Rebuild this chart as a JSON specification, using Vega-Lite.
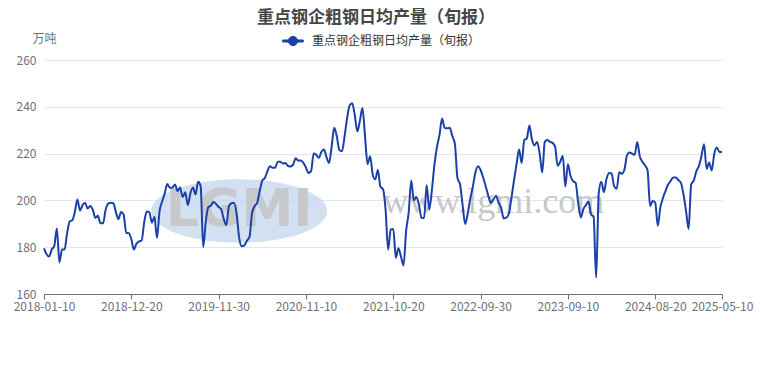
{
  "$schema": "https://vega.github.io/schema/vega-lite/v6.json",
  "autosize": "none",
  "width": 678,
  "height": 234,
  "padding": {"left": 44, "top": 60, "right": 38, "bottom": 76},
  "background": "#ffffff",
  "config": {
    "view": {"stroke": null},
    "font": "Noto Sans CJK SC"
  },
  "title": {
    "text": "重点钢企粗钢日均产量（旬报）",
    "fontSize": 17,
    "fontWeight": "bold",
    "color": "#464646",
    "font": "Noto Sans CJK SC",
    "anchor": "middle",
    "frame": "group",
    "offset": 3,
    "dx": -7
  },
  "layer": [
    {
      "data": {"values": [{}]},
      "mark": {"type": "point", "filled": true, "shape": "M-1,0 A1,0.36 0 1,1 1,0 A1,0.36 0 1,1 -1,0 Z", "size": 31000, "color": "#c3d6ec", "opacity": 0.75, "strokeWidth": 0},
      "encoding": {
        "x": {"datum": "2020-02-20", "type": "ordinal"},
        "y": {"datum": 195.5, "type": "quantitative"}
      }
    },
    {
      "data": {"values": [{}]},
      "mark": {"type": "text", "text": "LGMI", "fontSize": 52, "fontWeight": "bold", "font": "DejaVu Sans", "color": "#c6c6c6", "opacity": 0.9, "baseline": "middle", "align": "center"},
      "encoding": {
        "x": {"datum": "2020-02-20", "type": "ordinal"},
        "y": {"datum": 196, "type": "quantitative"}
      }
    },
    {
      "data": {"values": [{}]},
      "mark": {"type": "text", "text": "www.lgmi.com", "fontSize": 36, "font": "Liberation Serif", "color": "#c8c8c8", "baseline": "alphabetic", "align": "center"},
      "encoding": {
        "x": {"datum": "2022-11-20", "type": "ordinal"},
        "y": {"datum": 194.6, "type": "quantitative"}
      }
    },
    {
      "data": {
        "values": [
          {"d": "2018-01-10", "v": 179.5}, {"d": "2018-01-20", "v": 177}, {"d": "2018-01-31", "v": 176}, {"d": "2018-02-10", "v": 179}, {"d": "2018-02-20", "v": 180.5}, {"d": "2018-02-28", "v": 188},
          {"d": "2018-03-10", "v": 173.5}, {"d": "2018-03-20", "v": 179}, {"d": "2018-03-31", "v": 179}, {"d": "2018-04-10", "v": 186}, {"d": "2018-04-20", "v": 191}, {"d": "2018-04-30", "v": 191.5},
          {"d": "2018-05-10", "v": 195}, {"d": "2018-05-20", "v": 200.4}, {"d": "2018-05-31", "v": 195.7}, {"d": "2018-06-10", "v": 198}, {"d": "2018-06-20", "v": 199}, {"d": "2018-06-30", "v": 196.5},
          {"d": "2018-07-10", "v": 197.6}, {"d": "2018-07-20", "v": 196}, {"d": "2018-07-31", "v": 192.5}, {"d": "2018-08-10", "v": 193.4}, {"d": "2018-08-20", "v": 190.2}, {"d": "2018-08-31", "v": 190.2},
          {"d": "2018-09-10", "v": 196}, {"d": "2018-09-20", "v": 198.6}, {"d": "2018-09-30", "v": 199}, {"d": "2018-10-10", "v": 198.8}, {"d": "2018-10-20", "v": 195}, {"d": "2018-10-31", "v": 192},
          {"d": "2018-11-10", "v": 195}, {"d": "2018-11-20", "v": 194}, {"d": "2018-11-30", "v": 186.2}, {"d": "2018-12-10", "v": 186}, {"d": "2018-12-20", "v": 183.5}, {"d": "2018-12-31", "v": 179},
          {"d": "2019-01-10", "v": 181.5}, {"d": "2019-01-20", "v": 182.5}, {"d": "2019-01-31", "v": 182.8}, {"d": "2019-02-10", "v": 190.5}, {"d": "2019-02-20", "v": 195.3}, {"d": "2019-02-28", "v": 195},
          {"d": "2019-03-10", "v": 190.5}, {"d": "2019-03-20", "v": 193}, {"d": "2019-03-31", "v": 184}, {"d": "2019-04-10", "v": 195.5}, {"d": "2019-04-20", "v": 199.5}, {"d": "2019-04-30", "v": 203},
          {"d": "2019-05-10", "v": 207}, {"d": "2019-05-20", "v": 205.4}, {"d": "2019-05-31", "v": 205.5}, {"d": "2019-06-10", "v": 206.8}, {"d": "2019-06-20", "v": 204}, {"d": "2019-06-30", "v": 205.5},
          {"d": "2019-07-10", "v": 201.4}, {"d": "2019-07-20", "v": 203.5}, {"d": "2019-07-31", "v": 198}, {"d": "2019-08-10", "v": 203}, {"d": "2019-08-20", "v": 205.5}, {"d": "2019-08-31", "v": 202.5},
          {"d": "2019-09-10", "v": 208}, {"d": "2019-09-20", "v": 206}, {"d": "2019-09-30", "v": 180}, {"d": "2019-10-10", "v": 191}, {"d": "2019-10-20", "v": 197.2}, {"d": "2019-10-31", "v": 197.8},
          {"d": "2019-11-10", "v": 199.3}, {"d": "2019-11-20", "v": 198.5}, {"d": "2019-11-30", "v": 197.2}, {"d": "2019-12-10", "v": 196.2}, {"d": "2019-12-20", "v": 192}, {"d": "2019-12-31", "v": 189.5},
          {"d": "2020-01-10", "v": 197.5}, {"d": "2020-01-20", "v": 198.8}, {"d": "2020-01-31", "v": 199}, {"d": "2020-02-10", "v": 194.3}, {"d": "2020-02-20", "v": 184}, {"d": "2020-02-29", "v": 180.4},
          {"d": "2020-03-10", "v": 180.8}, {"d": "2020-03-20", "v": 182.8}, {"d": "2020-03-31", "v": 184.4}, {"d": "2020-04-10", "v": 194.4}, {"d": "2020-04-20", "v": 197.5}, {"d": "2020-04-30", "v": 199},
          {"d": "2020-05-10", "v": 204}, {"d": "2020-05-20", "v": 208.5}, {"d": "2020-05-31", "v": 209.6}, {"d": "2020-06-10", "v": 212.5}, {"d": "2020-06-20", "v": 214.6}, {"d": "2020-06-30", "v": 214},
          {"d": "2020-07-10", "v": 214}, {"d": "2020-07-20", "v": 216.5}, {"d": "2020-07-31", "v": 216.5}, {"d": "2020-08-10", "v": 215.8}, {"d": "2020-08-20", "v": 216}, {"d": "2020-08-31", "v": 214.7},
          {"d": "2020-09-10", "v": 214.5}, {"d": "2020-09-20", "v": 215.3}, {"d": "2020-09-30", "v": 218}, {"d": "2020-10-10", "v": 217}, {"d": "2020-10-20", "v": 217}, {"d": "2020-10-31", "v": 216},
          {"d": "2020-11-10", "v": 214}, {"d": "2020-11-20", "v": 211.7}, {"d": "2020-11-30", "v": 212.5}, {"d": "2020-12-10", "v": 220}, {"d": "2020-12-20", "v": 219.5}, {"d": "2020-12-31", "v": 218.2},
          {"d": "2021-01-10", "v": 220.7}, {"d": "2021-01-20", "v": 221.7}, {"d": "2021-01-31", "v": 218.5}, {"d": "2021-02-10", "v": 216}, {"d": "2021-02-20", "v": 223}, {"d": "2021-02-28", "v": 231},
          {"d": "2021-03-10", "v": 227.4}, {"d": "2021-03-20", "v": 221.5}, {"d": "2021-03-31", "v": 221}, {"d": "2021-04-10", "v": 227}, {"d": "2021-04-20", "v": 235}, {"d": "2021-04-30", "v": 240.5},
          {"d": "2021-05-10", "v": 241.5}, {"d": "2021-05-20", "v": 236.5}, {"d": "2021-05-31", "v": 229.5}, {"d": "2021-06-10", "v": 234}, {"d": "2021-06-20", "v": 239.5}, {"d": "2021-06-30", "v": 227.4},
          {"d": "2021-07-10", "v": 215.5}, {"d": "2021-07-20", "v": 218.9}, {"d": "2021-07-31", "v": 211}, {"d": "2021-08-10", "v": 209}, {"d": "2021-08-20", "v": 213}, {"d": "2021-08-31", "v": 205.8},
          {"d": "2021-09-10", "v": 204.8}, {"d": "2021-09-20", "v": 196}, {"d": "2021-09-30", "v": 179}, {"d": "2021-10-10", "v": 187.6}, {"d": "2021-10-20", "v": 187.8}, {"d": "2021-10-31", "v": 175.5},
          {"d": "2021-11-10", "v": 179.6}, {"d": "2021-11-20", "v": 176}, {"d": "2021-11-30", "v": 172.2}, {"d": "2021-12-10", "v": 187}, {"d": "2021-12-20", "v": 194.8}, {"d": "2021-12-31", "v": 208.5},
          {"d": "2022-01-10", "v": 200}, {"d": "2022-01-20", "v": 201.5}, {"d": "2022-01-31", "v": 198}, {"d": "2022-02-10", "v": 192.5}, {"d": "2022-02-20", "v": 192.5}, {"d": "2022-02-28", "v": 206.5},
          {"d": "2022-03-10", "v": 196}, {"d": "2022-03-20", "v": 204}, {"d": "2022-03-31", "v": 215}, {"d": "2022-04-10", "v": 222.8}, {"d": "2022-04-20", "v": 228}, {"d": "2022-04-30", "v": 235},
          {"d": "2022-05-10", "v": 231}, {"d": "2022-05-20", "v": 230.8}, {"d": "2022-05-31", "v": 231}, {"d": "2022-06-10", "v": 227.5}, {"d": "2022-06-20", "v": 224}, {"d": "2022-06-30", "v": 209.5},
          {"d": "2022-07-10", "v": 206.8}, {"d": "2022-07-20", "v": 198}, {"d": "2022-07-31", "v": 189.9}, {"d": "2022-08-10", "v": 194.5}, {"d": "2022-08-20", "v": 200.8}, {"d": "2022-08-31", "v": 206},
          {"d": "2022-09-10", "v": 212}, {"d": "2022-09-20", "v": 214.6}, {"d": "2022-09-30", "v": 213}, {"d": "2022-10-10", "v": 209.8}, {"d": "2022-10-20", "v": 206}, {"d": "2022-10-31", "v": 202},
          {"d": "2022-11-10", "v": 199}, {"d": "2022-11-20", "v": 200.4}, {"d": "2022-11-30", "v": 202}, {"d": "2022-12-10", "v": 199}, {"d": "2022-12-20", "v": 196.8}, {"d": "2022-12-31", "v": 192.3},
          {"d": "2023-01-10", "v": 192.6}, {"d": "2023-01-20", "v": 194.3}, {"d": "2023-01-31", "v": 201}, {"d": "2023-02-10", "v": 208.5}, {"d": "2023-02-20", "v": 215.5}, {"d": "2023-02-28", "v": 221.7},
          {"d": "2023-03-10", "v": 216}, {"d": "2023-03-20", "v": 225.8}, {"d": "2023-03-31", "v": 226.5}, {"d": "2023-04-10", "v": 232}, {"d": "2023-04-20", "v": 226}, {"d": "2023-04-30", "v": 223.5},
          {"d": "2023-05-10", "v": 225}, {"d": "2023-05-20", "v": 220}, {"d": "2023-05-31", "v": 212}, {"d": "2023-06-10", "v": 225}, {"d": "2023-06-20", "v": 225.8}, {"d": "2023-06-30", "v": 225},
          {"d": "2023-07-10", "v": 224.6}, {"d": "2023-07-20", "v": 223}, {"d": "2023-07-31", "v": 214.8}, {"d": "2023-08-10", "v": 216.5}, {"d": "2023-08-20", "v": 219}, {"d": "2023-08-31", "v": 206},
          {"d": "2023-09-10", "v": 215.5}, {"d": "2023-09-20", "v": 210.5}, {"d": "2023-09-30", "v": 208.2}, {"d": "2023-10-10", "v": 207.5}, {"d": "2023-10-20", "v": 199}, {"d": "2023-10-31", "v": 192.7},
          {"d": "2023-11-10", "v": 196.2}, {"d": "2023-11-20", "v": 198}, {"d": "2023-11-30", "v": 199.5}, {"d": "2023-12-10", "v": 194.1}, {"d": "2023-12-20", "v": 193}, {"d": "2023-12-31", "v": 167},
          {"d": "2024-01-10", "v": 203}, {"d": "2024-01-20", "v": 208}, {"d": "2024-01-31", "v": 203.5}, {"d": "2024-02-10", "v": 209}, {"d": "2024-02-20", "v": 211.7}, {"d": "2024-02-29", "v": 211.5},
          {"d": "2024-03-10", "v": 206.1}, {"d": "2024-03-20", "v": 205}, {"d": "2024-03-31", "v": 212}, {"d": "2024-04-10", "v": 211.4}, {"d": "2024-04-20", "v": 213.1}, {"d": "2024-04-30", "v": 219.2},
          {"d": "2024-05-10", "v": 220.5}, {"d": "2024-05-20", "v": 220}, {"d": "2024-05-31", "v": 219.5}, {"d": "2024-06-10", "v": 225}, {"d": "2024-06-20", "v": 218.8}, {"d": "2024-06-30", "v": 216.5},
          {"d": "2024-07-10", "v": 215}, {"d": "2024-07-20", "v": 213}, {"d": "2024-07-31", "v": 197.6}, {"d": "2024-08-10", "v": 199.7}, {"d": "2024-08-20", "v": 199}, {"d": "2024-08-31", "v": 189.2},
          {"d": "2024-09-10", "v": 197}, {"d": "2024-09-20", "v": 201}, {"d": "2024-09-30", "v": 204}, {"d": "2024-10-10", "v": 206.8}, {"d": "2024-10-20", "v": 208.3}, {"d": "2024-10-31", "v": 209.8},
          {"d": "2024-11-10", "v": 209.8}, {"d": "2024-11-20", "v": 208.7}, {"d": "2024-11-30", "v": 207.5}, {"d": "2024-12-10", "v": 202.6}, {"d": "2024-12-20", "v": 195.5}, {"d": "2024-12-31", "v": 187.8},
          {"d": "2025-01-10", "v": 206.8}, {"d": "2025-01-20", "v": 208.5}, {"d": "2025-01-31", "v": 212.4}, {"d": "2025-02-10", "v": 214.7}, {"d": "2025-02-20", "v": 219}, {"d": "2025-02-28", "v": 224},
          {"d": "2025-03-10", "v": 213.5}, {"d": "2025-03-20", "v": 216.2}, {"d": "2025-03-31", "v": 212.8}, {"d": "2025-04-10", "v": 220}, {"d": "2025-04-20", "v": 222.6}, {"d": "2025-04-30", "v": 220.7},
          {"d": "2025-05-10", "v": 220.8}
        ]
      },
      "mark": {"type": "line", "interpolate": "monotone", "strokeWidth": 2},
      "encoding": {
        "x": {
          "field": "d",
          "type": "ordinal",
          "scale": {"type": "point", "padding": 0},
          "axis": {
            "title": null,
            "values": ["2018-01-10", "2018-12-20", "2019-11-30", "2020-11-10", "2021-10-20", "2022-09-30", "2023-09-10", "2024-08-20", "2025-05-10"],
            "labelAngle": 0,
            "labelAlign": "center",
            "labelOverlap": false,
            "labelBound": false,
            "labelFlush": false,
            "labelFontSize": 12,
            "labelColor": "#6E7079",
            "labelFont": "Noto Sans CJK SC",
            "labelPadding": 7,
            "domainColor": "#6E7079",
            "tickColor": "#6E7079",
            "tickSize": 5,
            "grid": false
          }
        },
        "y": {
          "field": "v",
          "type": "quantitative",
          "scale": {"domain": [160, 260], "nice": false, "zero": false},
          "axis": {
            "title": "万吨",
            "titleAngle": 0,
            "titleX": 0,
            "titleY": -22,
            "titleAlign": "center",
            "titleBaseline": "middle",
            "titleFontSize": 12,
            "titleFontWeight": "normal",
            "titleColor": "#6E7079",
            "titleFont": "Noto Sans CJK SC",
            "values": [160, 180, 200, 220, 240, 260],
            "labelFontSize": 12,
            "labelColor": "#6E7079",
            "labelFont": "Noto Sans CJK SC",
            "labelPadding": 8,
            "ticks": false,
            "tickSize": 0,
            "domain": false,
            "grid": true,
            "gridColor": "#E0E6F1",
            "gridWidth": 1
          }
        },
        "color": {
          "datum": "重点钢企粗钢日均产量（旬报）",
          "scale": {"range": ["#1B41A8"]},
          "legend": {
            "title": null,
            "orient": "none",
            "legendX": 238,
            "legendY": -30,
            "padding": 0,
            "symbolType": "M-1,-0.1 L1,-0.1 L1,0.1 L-1,0.1 Z M0.45,0 A0.45,0.45 0 1,1 -0.45,0 A0.45,0.45 0 1,1 0.45,0 Z",
            "symbolSize": 420,
            "symbolStrokeWidth": 1,
            "symbolFillColor": "#1B41A8",
            "symbolStrokeColor": "#1B41A8",
            "symbolOpacity": 1,
            "labelFontSize": 12,
            "labelLimit": 400,
            "labelColor": "#333333",
            "labelFont": "Noto Sans CJK SC",
            "labelOffset": 8
          }
        }
      }
    }
  ]
}
